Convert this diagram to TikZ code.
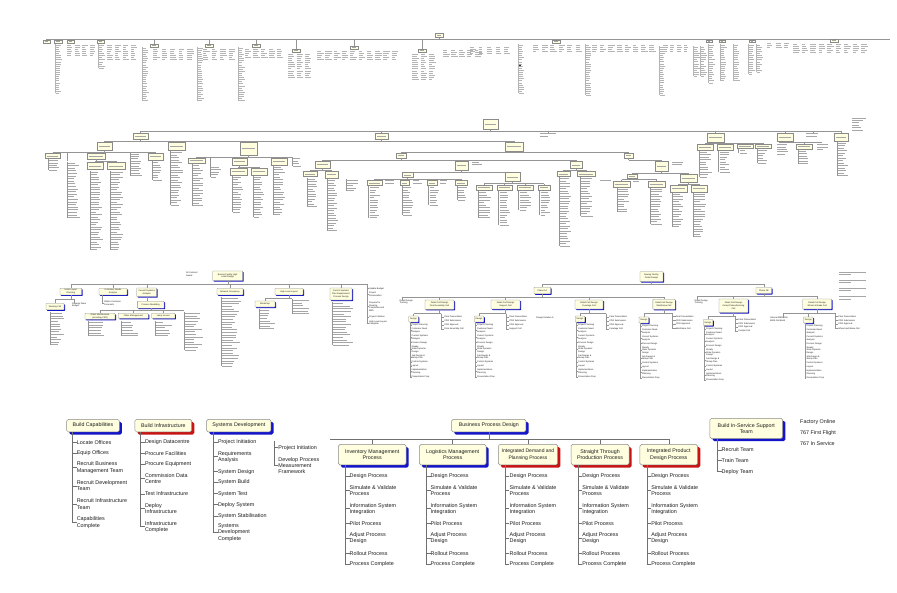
\documentclass[tikz,border=0pt]{standalone}
\usepackage{fontspec}
\setmainfont{Liberation Sans}
\usetikzlibrary{shadows}
\definecolor{ylw}{HTML}{FFFFE0}
\definecolor{bord}{HTML}{8A8A8A}
\definecolor{shblue}{HTML}{1414C8}
\definecolor{shred}{HTML}{C81414}
\definecolor{txt}{HTML}{1C1C1C}
\definecolor{ln}{HTML}{707070}
\definecolor{tb}{HTML}{A6A6A6}
\definecolor{tb1}{HTML}{B4B4B4}
\tikzset{
  bx/.style={draw=bord, fill=ylw, rounded corners=1.6pt, line width=0.5pt, font=\fontsize{5.3}{6.2}\selectfont, align=center, inner sep=0.6pt, text=txt},
  sb/.style={drop shadow={shadow xshift=2.6pt, shadow yshift=-2.6pt, fill=shblue, opacity=1}},
  sr/.style={drop shadow={shadow xshift=2.6pt, shadow yshift=-2.6pt, fill=shred, opacity=1}},
  item/.style={anchor=west, align=left, inner sep=0pt, font=\fontsize{5.4}{6.2}\selectfont, text=txt},
  conn/.style={draw=ln, line width=0.5pt},
  t3/.style={draw=bord, fill=ylw, rounded corners=0.5pt, line width=0.3pt, font=\fontsize{2.2}{2.6}\selectfont, align=center, inner sep=0.4pt, text=txt},
  t3b/.style={t3, drop shadow={shadow xshift=1pt, shadow yshift=-1pt, fill=shblue, opacity=1}},
  t3r/.style={t3, drop shadow={shadow xshift=1pt, shadow yshift=-1pt, fill=shred, opacity=1}},
  t3i/.style={anchor=west, align=left, inner sep=0pt, font=\fontsize{2.2}{2.6}\selectfont, text=txt},
  tconn/.style={draw=ln!75, line width=0.3pt},
  tbar/.style={draw=tb, line width=0.7pt},
  tbar1/.style={draw=tb1, line width=0.45pt},
}
% tiny box with drop from bus
\newcommand{\tbd}[6]{%
  \draw[tconn] ({(#1+#3)/2},#6) -- ({(#1+#3)/2},#2);
  \fill[#5] ({#1+0.9},{#2+0.9}) rectangle ({#3+0.9},{#4+0.9});
  \filldraw[fill=ylw, draw=bord, line width=0.2pt] (#1,#2) rectangle (#3,#4);
  \draw[tbar, line width=0.55pt] ({#1+1.8},{(#2+#4)/2}) -- ({#3-1.8},{(#2+#4)/2});}
\newcommand{\hb}[3]{\draw[tconn] (#2,#1) -- (#3,#1);}
\newcommand{\tlist}[5]{%
  \draw[tconn] (#1,{#2-1.5}) -- (#1,{#2+(#3-1)*#5});
  \foreach \i in {1,...,#3}{%
    \pgfmathsetmacro{\ww}{#4*(0.45+0.55*rnd)}%
    \draw[tbar] ({#1+1},{#2+(\i-1)*#5}) -- ++(\ww,0);}}
\newcommand{\tcol}[5]{%
  \foreach \i in {1,...,#3}{%
    \pgfmathsetmacro{\ww}{#4*(0.45+0.55*rnd)}%
    \draw[tbar] (#1,{#2+(\i-1)*#5}) -- ++(\ww,0);}}
\newcommand{\tcolone}[4]{%
  \draw[tconn, draw=tb1] (#1,{#2-1.5}) -- (#1,{#2+(#3-1)*2.1});
  \foreach \i in {1,...,#3}{%
    \pgfmathsetmacro{\ww}{#4*(0.45+0.55*rnd)}%
    \draw[tbar1] ({#1+0.8},{#2+(\i-1)*2.1}) -- ++(\ww,0);}}
\newcommand{\tcols}[6]{%
  \foreach \c in {1,...,#3}{%
    \pgfmathsetmacro{\xx}{#1+(\c-1)*#4}%
    \foreach \i in {1,...,#5}{%
      \pgfmathsetmacro{\ww}{#6*(0.45+0.55*rnd)}%
      \draw[tbar1] (\xx,{#2+(\i-1)*2.1}) -- ++(\ww,0);}}}
\newcommand{\proclist}[1]{%
  \foreach \k/\yy/\tx in {1/476.3/Design Process, 2/490.3/Simulate \& Validate\\Process, 3/508.7/Information System\\Integration, 4/523.7/Pilot Process, 5/538.3/Adjust Process\\Design, 6/553.3/Rollout Process, 7/564/Process Complete}{%
    \path (#1.south west) ++(11.4pt,0) coordinate (tmpx);
    \node[item] (#1\k) at (tmpx |- 0,\yy) {\tx};
    \draw[conn] ([xshift=7.5pt]#1.south west) |- (#1\k.west);}}
% detail cell sub-structure: #1 dc name, #2 dc centre x, #3 design cx, #4 bus y, #5 list x, #6 item4, #7 design cy
\newcommand{\dcell}[7]{%
  \draw[tconn] (#1.south) -- (#2,#4);
  \draw[tconn] (#3,#4) -- (#5,#4);
  \node[t3b, minimum width=9.5pt, minimum height=6pt] (#1d) at (#3,#7) {Design};
  \draw[tconn] (#3,#4) -- (#1d.north);
  \foreach \k/\dy/\tx in {1/3.3/Final Presentation, 2/7.3/CDR Submission, 3/11.3/CDR Approval, 4/15.3/#6}{%
    \node[t3i] (#1r\k) at ({#5+3.2},{#4+\dy}) {\tx};
    \draw[tconn] (#5,#4) |- (#1r\k.west);}
  \foreach \k/\dy/\tx in {1/1.3/Project Planning, 2/6.6/Customer Need\\Analysis, 3/13.2/Current Systems\\Analysis, 4/18.5/Process Design, 5/25.1/Steady\\State Dynamic\\Design, 6/33.0/Job Design \&\\Skimp Plan, 7/38.3/Control Systems, 8/42.3/Layout, 9/47.6/Implementation\\Planning, 10/52.9/Presentation Prep}{%
    \node[t3i] (#1i\k) at ({#3-2},{#7+5+\dy}) {\tx};
    \draw[tconn] ([xshift=1.3pt]#1d.south west) |- (#1i\k.west);}}
\begin{document}
\begin{tikzpicture}[x=1pt,y=-1pt]
\pgfmathsetseed{7}
\fill[white] (0,0) rectangle (897,592);
\useasboundingbox (0,0) rectangle (897,592);

% ================= TIER 1 (overview) =================
\tbd{435}{33}{443}{37.5}{shred}{33}
\draw[tconn] (439,37.5) -- (439,39);
\hb{39}{46}{890}
\tbd{43}{40}{50}{43}{shred}{39}
\tbd{54}{40}{62}{43}{shred}{39} \tcolone{55}{45}{24}{6}
\tbd{67}{40}{74}{43}{shblue}{39} \tcols{67}{45}{4}{7.5}{6}{6}
\tbd{97}{40}{104}{43}{shred}{39} \tcolone{98}{45}{12}{6} \tcols{107}{45}{4}{8}{8}{6}
\tcolone{142}{48}{26}{6} \tbd{150}{44}{158}{47}{shred}{39} \tcols{153}{49}{5}{8.5}{6}{7}
\tcolone{197}{48}{26}{6} \tbd{205}{44}{213}{47}{shred}{39} \tcols{203}{49}{4}{8.5}{6}{7}
\tcolone{238}{48}{26}{6} \tbd{252}{44}{260}{47}{shred}{39} \tcols{245}{49}{5}{8}{5}{7}
\tbd{292}{49}{300}{52}{shblue}{39} \tcols{288}{54}{3}{8.5}{12}{7}
\tbd{350}{46}{358}{49}{shblue}{39} \tcols{317}{51}{10}{8.3}{5}{7}
\tbd{418}{49}{426}{52}{shblue}{39} \tcols{412}{54}{3}{8.5}{13}{7}
\tcols{443}{50}{5}{8}{4}{7}
\tcols{470}{47}{5}{8.5}{4}{7}
\tcolone{518}{45}{24}{6}
\tbd{552}{40}{560}{43}{shred}{39} \tcols{533}{45}{6}{8.5}{4}{7}
\tcolone{585}{45}{25}{6}
\tcols{592}{45}{8}{8.2}{4}{7}
\tcolone{659}{47}{24}{6}
\tcols{663}{45}{4}{7}{4}{6}
\tcolone{693}{47}{15}{6} \tcolone{700}{47}{15}{6}
\tbd{706}{40}{712}{42.5}{shred}{39} \tcolone{708}{45}{19}{6}
\tbd{719}{40}{725}{42.5}{shred}{39} \tcolone{720}{45}{18}{6}
\tcolone{733}{45}{18}{6}
\tbd{749}{40}{755}{42.5}{shred}{39} \tcolone{748}{45}{15}{6}
\tcolone{756}{45}{14}{6}
\tcols{767}{43}{3}{8.5}{3}{7}
\tbd{830}{39.5}{838}{42}{shblue}{39}
\tcols{793}{44}{9}{8.5}{5}{7}
\fill[black] (520,65.5) circle (0.9);

% ================= TIER 2 =================
\tbd{483}{119}{498}{129}{shred}{119}
\draw[tconn] (490.5,129) -- (490.5,130.7);
\hb{130.7}{140.5}{841}
\tbd{133}{133}{148}{139.5}{shred}{130.7}
\tbd{375}{133}{388}{139.5}{shred}{130.7}
\draw[tconn] (548,130.7) -- (548,132.5); \tcol{540}{133.5}{2}{16}{2.4}
\tbd{707}{133}{724}{142}{shred}{130.7}
\tbd{777}{133}{793}{141}{shblue}{130.7}
\draw[tconn] (813,130.7) -- (813,132.5); \tcol{806}{133.5}{2}{15}{2.4}
\tbd{834}{133}{848}{141}{shblue}{130.7}
\tcol{852}{118}{6}{15}{2.4}
% level 2
\draw[tconn] (140.5,139.5) -- (140.5,141);
\draw[tconn] (381.5,139.5) -- (381.5,141);
\hb{141}{104}{514}
\tbd{96.7}{142.5}{111.7}{150}{shblue}{141}
\tbd{168}{142.5}{185}{150}{shred}{141} \tlist{170}{152.5}{22}{12}{2.5}
\tbd{240}{142.5}{257}{155}{shred}{141}
\tbd{505}{142.5}{523}{151}{shred}{141}
% F children
\draw[tconn] (104,150) -- (104,152.5); \hb{152.5}{52.5}{155.5}
\tbd{45}{153.5}{60}{158.5}{shblue}{152.5} \tlist{48}{160.5}{5}{10}{2.4}
\draw[tconn] (66.7,152.5) -- (66.7,161); \tlist{66.7}{163}{22}{12}{2.6}
\tbd{86.7}{153.5}{105}{159}{shblue}{152.5}
\draw[tconn] (95.8,159) -- (95.8,161); \hb{161}{94.8}{116}
\tbd{86.7}{162.5}{103}{169.5}{shblue}{161} \tlist{90}{172}{32}{12}{2.5}
\tbd{107}{162.5}{125}{169.5}{shblue}{161} \tlist{110}{172}{32}{12}{2.5}
\tlist{130}{154}{10}{12}{2.4}
\tbd{148}{153.5}{163}{160}{shblue}{152.5} \tlist{151.7}{162.5}{8}{10}{2.5}
% H children
\draw[tconn] (248.5,155) -- (248.5,156.7); \hb{156.7}{196.5}{291.7}
\tbd{188}{158}{205}{163.5}{shred}{156.7} \tlist{191.7}{165.5}{17}{11}{2.5}
\draw[tconn] (210,156.7) -- (210,165.5); \tlist{210}{167}{5}{10}{2.5}
\tbd{231.7}{158}{246.7}{165}{shred}{156.7}
\draw[tconn] (239.2,165) -- (239.2,167); \hb{167}{238.3}{258.7}
\tbd{230}{168}{246.7}{175}{shred}{167} \tlist{231.7}{177}{15}{11}{2.5}
\tbd{250.7}{168}{266.7}{175}{shblue}{167} \tlist{253}{177}{17}{11}{2.5}
\tbd{270.7}{158}{286.7}{165}{shred}{156.7} \tlist{273}{167}{20}{11}{2.5}
\tlist{291.7}{158.5}{4}{10}{2.5}
% I children
\draw[tconn] (514,151) -- (514,152.5); \hb{152.5}{401}{628.5}
\tbd{396}{153.5}{406}{158}{shred}{152.5}
\tbd{624}{153.5}{633}{158}{shred}{152.5}
\draw[tconn] (401,158) -- (401,160); \hb{160}{322.5}{576}
\tbd{315}{161.5}{330}{168}{shred}{160}
\draw[tconn] (322.5,168) -- (322.5,170); \hb{170}{310}{331.5}
\tbd{303}{171.5}{317}{176.5}{shblue}{170} \tlist{306.7}{179}{12}{10}{2.5}
\tbd{325}{171.5}{338}{178}{shred}{170} \tlist{327}{180.5}{21}{10}{2.5}
\tlist{346}{180.5}{5}{12}{2.5}
\tbd{455}{161.5}{468}{170}{shred}{160} \tcol{472}{162}{2}{13}{2.4}
\draw[tconn] (461.5,170) -- (461.5,172); \hb{172}{407.3}{512.5}
\tbd{401.7}{172.5}{413}{177.5}{shblue}{172}
\draw[tconn] (407.3,177.5) -- (407.3,179); \hb{179}{374.5}{461}
\tbd{367}{180.5}{382}{185.5}{shblue}{179} \tlist{368.5}{187.5}{13}{11}{2.5}
\tcol{385}{180.5}{2}{12}{2.4}
\tbd{400}{180.5}{409}{185.5}{shred}{179} \tlist{402}{187.5}{12}{10}{2.5}
\tcol{413}{180.5}{2}{10}{2.4}
\tbd{427}{180.5}{437}{185.5}{shblue}{179} \tlist{428.5}{187.5}{8}{10}{2.5}
\tcol{440}{180.5}{2}{10}{2.4}
\tbd{455}{180.5}{467}{185.5}{shred}{179} \tlist{457}{187.5}{6}{10}{2.5}
\tbd{505}{172.5}{520}{181.5}{shred}{172}
\draw[tconn] (512.5,181.5) -- (512.5,183.5); \hb{183.5}{484}{544}
\tbd{476}{185}{492}{190.5}{shblue}{183.5} \tlist{478}{192.5}{11}{12}{2.5}
\tbd{497}{185}{512}{190.5}{shred}{183.5} \tlist{498.5}{192.5}{14}{12}{2.5}
\tbd{517}{185}{533}{190.5}{shblue}{183.5} \tlist{518.5}{192.5}{8}{12}{2.5}
\tbd{538}{185}{550}{190.5}{shred}{183.5} \tlist{539.5}{192.5}{10}{10}{2.5}
\tbd{570}{161.5}{582}{168.5}{shred}{160}
\draw[tconn] (576,168.5) -- (576,170); \hb{170}{563.5}{586}
\tbd{557}{171.5}{570}{176.5}{shred}{170} \tlist{559}{178.5}{28}{11}{2.5}
\tbd{577}{171.5}{595}{176.5}{shred}{170} \tlist{580}{178.5}{16}{12}{2.5}
\tcol{600}{180}{1}{12}{2.4}
% K children
\draw[tconn] (628.5,158) -- (628.5,160); \hb{160}{628.5}{661.5}
\tbd{655}{161.5}{668}{171.5}{shblue}{160} \tcol{672}{162}{2}{13}{2.4}
\draw[tconn] (661.5,171.5) -- (661.5,173); \hb{173}{632}{688.5}
\tbd{627}{174}{637}{178}{shblue}{173}
\draw[tconn] (632,178) -- (632,179.5); \hb{179.5}{621.5}{656.5}
\tbd{613}{181}{630}{187}{shblue}{179.5} \tlist{617}{189}{10}{12}{2.5}
\tcol{633}{181}{1}{12}{2.4}
\tbd{648}{181}{665}{187}{shblue}{179.5} \tlist{650}{189}{15}{12}{2.5}
\tbd{680}{174}{697}{182}{shred}{173}
\draw[tconn] (688.5,182) -- (688.5,184); \hb{184}{678.5}{699}
\tbd{670}{185.5}{687}{192}{shred}{184} \tlist{672}{194}{14}{12}{2.5}
\tbd{691}{185.5}{707}{192}{shred}{184} \tlist{693}{194}{18}{12}{2.5}
% C children
\draw[tconn] (715.5,142) -- (715.5,143); \hb{143}{705}{763}
\tbd{697}{144}{713}{150}{shred}{143} \tlist{699}{152}{11}{12}{2.5}
\tbd{717}{144}{733}{150}{shred}{143} \tlist{718.5}{152}{9}{12}{2.5}
\tbd{737}{144}{753}{148.5}{shblue}{143} \tlist{738.5}{150.5}{2}{10}{2.5}
\tbd{755}{144}{771}{148.5}{shblue}{143} \tlist{757}{150.5}{6}{10}{2.5}
% D children
\draw[tconn] (785,141) -- (785,142.5); \hb{142.5}{779}{822}
\tcol{777}{144.5}{5}{12}{2.4}
\tbd{796}{144}{812}{149}{shblue}{142.5} \tlist{798}{151}{6}{10}{2.5}
\tcol{817}{144.5}{3}{12}{2.4}
\tlist{837}{143}{14}{10}{2.5}

% ================= TIER 3 =================
\node[t3b, minimum width=30pt, minimum height=9.5pt] (hld) at (227.7,275.8) {Boeing Facility High\\Level Design};
\node[t3i] (aca) at (186,274) {All Contract\\Award};
\coordinate (b3) at (227.7,284);
\draw[tconn] (hld.south) -- (b3);
\draw[tconn] (70.8,284) -- (366.7,284);
\node[t3b, minimum width=21.7pt, minimum height=6.7pt] (ilp) at (70.8,291.6) {Initial Layout\\Planning};
\node[t3b, minimum width=28pt, minimum height=6.7pt] (cna) at (113,291.6) {Customer Needs\\Analysis};
\node[t3b, minimum width=20pt, minimum height=8.5pt] (csa) at (146.7,292.3) {Current Systems\\Analysis};
\node[t3b, minimum width=26pt, minimum height=6.7pt] (nop) at (230,291.6) {Network Occupancy};
\node[t3b, minimum width=28pt, minimum height=6.7pt] (hll) at (289,291.6) {High Level Layout};
\node[t3b, minimum width=22pt, minimum height=12pt] (csp) at (341,294) {Control Systems\\Plan Requirement\\Process Design};
\foreach \n in {ilp,cna,csa,nop,hll,csp} \draw[tconn] (\n.north |- b3) -- (\n.north);
% Initial layout planning
\draw[tconn] (ilp.south) -- (70.8,299); \draw[tconn] (55,299) -- (74,299);
\node[t3b, minimum width=18pt, minimum height=6.5pt] (wc) at (55,306.5) {Working Cell};
\draw[tconn] (55,299) -- (wc.north);
\node[t3i, anchor=north west] (dtb) at (72,302.5) {Develop Team\\Budget};
\draw[tconn] (74,299) -- (74,302.5);
\tlist{50}{313.5}{13}{13}{2.6}
% customer needs
\node[t3i] (ocf) at (104,303) {Obtain Customer\\Forecasts};
\draw[tconn] ([xshift=3pt]cna.south west) |- (ocf.west);
% current systems
\node[t3b, minimum width=26.7pt, minimum height=7pt] (pmd) at (150.7,304.7) {Process Modelling};
\draw[tconn] (csa.south) -- (pmd.north -| csa.south);
\draw[tconn] (pmd.south) -- (150.7,310.5);
\draw[tconn] (100,310.5) -- (184,310.5);
\node[t3b, minimum width=30pt, minimum height=6pt] (om1) at (100,316.3) {Order Maintenance\\(including CSR)};
\node[t3b, minimum width=30pt, minimum height=5pt] (om2) at (133.3,315.8) {Order Management};
\node[t3b, minimum width=23.3pt, minimum height=5pt] (om3) at (163.3,315.8) {Lamp Invoice};
\foreach \n in {om1,om2,om3} \draw[tconn] (\n.north |- 0,310.5) -- (\n.north);
\tlist{88}{322.5}{6}{16}{2.6}
\tlist{121}{322.5}{6}{16}{2.6}
\tlist{155}{322.5}{6}{16}{2.6}
\tlist{184}{313.5}{15}{18}{2.6}
% network occupancy
\tlist{221}{298.5}{27}{20}{2.6}
% high level layout
\draw[tconn] (hll.south) -- (289,298.5); \draw[tconn] (265,298.5) -- (292,298.5);
\node[t3b, minimum width=20pt, minimum height=6pt] (wks) at (265,304) {Workshop};
\draw[tconn] (265,298.5) -- (wks.north);
\tlist{259}{310.5}{8}{16}{2.6}
\tlist{292}{300.5}{6}{16}{2.6}
% control systems
\tlist{332}{303.5}{17}{20}{2.6}
% update budget list
\draw[tconn] (366.7,284) -- (366.7,323);
\foreach \k/\yy/\tx in {1/288.5/Update Budget, 2/294.5/Project\\Presentation, 3/306.5/Prepare for\\Steering\\Committee and\\BBD, 4/317/Project Initiation, 5/323/High Level Layout\\Complete}{%
  \node[t3i] (ub\k) at (369,\yy) {\tx};
  \draw[tconn] (366.7,\yy) -- (ub\k.west);}

% right half
\node[t3b, minimum width=23pt, minimum height=10pt] (bfd) at (651.5,276.7) {Boeing Facility\\Detail Design};
\coordinate (b3r) at (651.5,284);
\draw[tconn] (bfd.south) -- (b3r);
\draw[tconn] (542.3,284) -- (763.8,284);
\node[t3b, minimum width=16.7pt, minimum height=6.5pt] (p1a) at (542.3,290.5) {Phase 1A};
\node[t3b, minimum width=15.7pt, minimum height=6pt] (p1b) at (763.8,290.5) {Phase 1B};
\draw[tconn] (p1a.north |- b3r) -- (p1a.north);
\draw[tconn] (p1b.north |- b3r) -- (p1b.north);
% phase 1A
\draw[tconn] (p1a.south) -- (542.3,296.7);
\draw[tconn] (402,296.7) -- (664,296.7);
\node[t3i, anchor=north west] (ddt1) at (399.5,299.5) {Detail Design\\Training};
\draw[tconn] (402,296.7) -- (402,299.5);
\node[t3b, minimum width=29pt, minimum height=9.3pt] (dc1) at (439.5,304.7) {Detail Cell Design\\Final Assembly Cell};
\node[t3b, minimum width=29pt, minimum height=9pt] (dc2) at (505.5,304.5) {Detail Cell Design\\Support Cell};
\node[t3b, minimum width=28pt, minimum height=9pt] (dc3) at (589,304.5) {Detail Cell Design\\Fuselage Cell};
\node[t3b, minimum width=22.3pt, minimum height=10pt] (dc4) at (664,304.3) {Detail Cell Design\\Mainframe Cell};
\foreach \n in {dc1,dc2,dc3,dc4} \draw[tconn] (\n.north |- 0,296.7) -- (\n.north);
\node[t3i] (dia) at (536,318) {Design Iteration A};
\dcell{dc1}{439.5}{413.5}{313.5}{441}{Final Assembly Cell}{319}
\dcell{dc2}{505.5}{479}{313.5}{506}{Support Cell}{319}
\dcell{dc3}{589}{580}{313.5}{606}{Fuselage Cell}{319}
\dcell{dc4}{664}{643.8}{313}{672.5}{Mainframe Cell}{320}
% phase 1B
\draw[tconn] (p1b.south) -- (763.8,296);
\draw[tconn] (697,296) -- (817.2,296);
\node[t3i, anchor=north west] (ddt2) at (694.5,299.5) {Detail Design\\Training};
\draw[tconn] (697,296) -- (697,299.5);
\node[t3b, minimum width=29pt, minimum height=13.7pt] (dc5) at (733.5,305.8) {Detail Cell Design\\Cockpit Manufacturing\\Cell};
\node[t3b, minimum width=29pt, minimum height=10pt] (dc6) at (817.2,304) {Detail Cell Design\\Wheel \& Brake Cell};
\foreach \n in {dc5,dc6} \draw[tconn] (\n.north |- 0,296) -- (\n.north);
\dcell{dc5}{733.5}{708}{316}{735}{Cockpit Cell}{322.5}
\dcell{dc6}{817.2}{808.3}{313}{835}{Wheel and Brake Cell}{320}
\node[t3i] (iwb) at (770,319.5) {Internal WBS Cell\\WBS Cell Build};
\draw[tconn] (783,313) -- (808.3,313);
\draw[tconn] (783,313) -- (783,317.5);
% notes top right
\foreach \yy in {272,280,288,296.5}{%
  \draw[tbar] (839,\yy) -- (866,\yy);
  \draw[tbar] (839,{\yy+2.6}) -- (851,{\yy+2.6});}

% ================= TIER 4 (bottom, readable) =================
\node[bx, sb, minimum width=52.6pt, minimum height=12.6pt] (bc) at (93,425.6) {Build Capabilities};
\foreach \nm/\yy/\tx in {bc1/442.3/Locate Offices, bc2/453.3/Equip Offices, bc3/467.5/Recruit Business\\Management Team, bc4/485.8/Recruit Development\\Team, bc5/504/Recruit Infrastructure\\Team, bc6/522.5/Capabilities\\Complete}{%
  \node[item] (\nm) at (76.6,\yy) {\tx};
  \draw[conn] ([xshift=6pt]bc.south west) |- (\nm.west);}

\node[bx, sr, minimum width=56.7pt, minimum height=12.6pt] (bi) at (163.3,425.6) {Build Infrastructure};
\foreach \nm/\yy/\tx in {bi1/442.3/Design Datacentre, bi2/453.3/Procure Facilities, bi3/464.3/Procure Equipment, bi4/478.7/Commission Data\\Centre, bi5/494/Test Infrastructure, bi6/508.3/Deploy\\Infrastructure, bi7/526.7/Infrastructure\\Complete}{%
  \node[item] (\nm) at (144.8,\yy) {\tx};
  \draw[conn] ([xshift=5.7pt]bi.south west) |- (\nm.west);}

\node[bx, sb, minimum width=64.3pt, minimum height=12.6pt] (sd) at (238.8,425.6) {Systems Development};
\foreach \nm/\yy/\tx in {sd1/442.3/Project Initiation, sd2/456.7/Requirements\\Analysis, sd3/471.7/System Design, sd4/482.3/System Build, sd5/493.7/System Test, sd6/504.7/Deploy System, sd7/516/System Stabilisation, sd8/532.5/Systems\\Development\\Complete}{%
  \node[item] (\nm) at (217.8,\yy) {\tx};
  \draw[conn] ([xshift=6.6pt]sd.south west) |- (\nm.west);}

\coordinate (pgt) at (274.3,441);
\node[item] (pg1) at (278.2,447.7) {Project Initiation};
\node[item] (pg2) at (278.2,465.4) {Develop Process\\Measurement\\Framework};
\draw[conn] (pgt) |- (pg1.west);
\draw[conn] (pgt) |- (pg2.west);

\node[bx, sb, minimum width=74.3pt, minimum height=12.6pt] (bpd) at (488.8,425.6) {Business Process Design};
\coordinate (busL) at (330,439.3);
\coordinate (busM) at (488.8,439.3);
\draw[conn] (bpd.south) -- (busM);
\node[bx, sb, minimum width=67.7pt, minimum height=20.5pt] (imp) at (372.2,454.7) {Inventory Management\\Process};
\node[bx, sb, minimum width=66.7pt, minimum height=20.5pt] (lmp) at (452.7,454.7) {Logistics Management\\Process};
\node[bx, sr, minimum width=59.4pt, minimum height=20.5pt, font=\fontsize{5}{6.2}\selectfont] (idp) at (528,454.7) {Integrated Demand and\\Planning Process};
\node[bx, sr, minimum width=58pt, minimum height=20.5pt] (stp) at (600,454.7) {Straight Through\\Production Process};
\node[bx, sr, minimum width=57.7pt, minimum height=20.5pt] (ipd) at (668.8,454.7) {Integrated Product\\Design Process};
\draw[conn] (busL) -| (ipd.north);
\foreach \n in {imp,lmp,idp,stp} \draw[conn] (\n.north |- busL) -- (\n.north);
\proclist{imp}
\proclist{lmp}
\proclist{idp}
\proclist{stp}
\proclist{ipd}

\node[bx, sb, minimum width=72.7pt, minimum height=20.2pt] (bis) at (746.3,428.4) {Build In-Service Support\\Team};
\foreach \nm/\yy/\tx in {bis1/450/Recruit Team, bis2/460.7/Train Team, bis3/471.7/Deploy Team}{%
  \node[item] (\nm) at (721.5,\yy) {\tx};
  \draw[conn] ([xshift=7.3pt]bis.south west) |- (\nm.west);}

\node[item] (fo) at (800,422.3) {Factory Online};
\node[item] (ff) at (800,433) {767 First Flight};
\node[item] (is) at (800,444) {767 In Service};
\end{tikzpicture}
\end{document}
